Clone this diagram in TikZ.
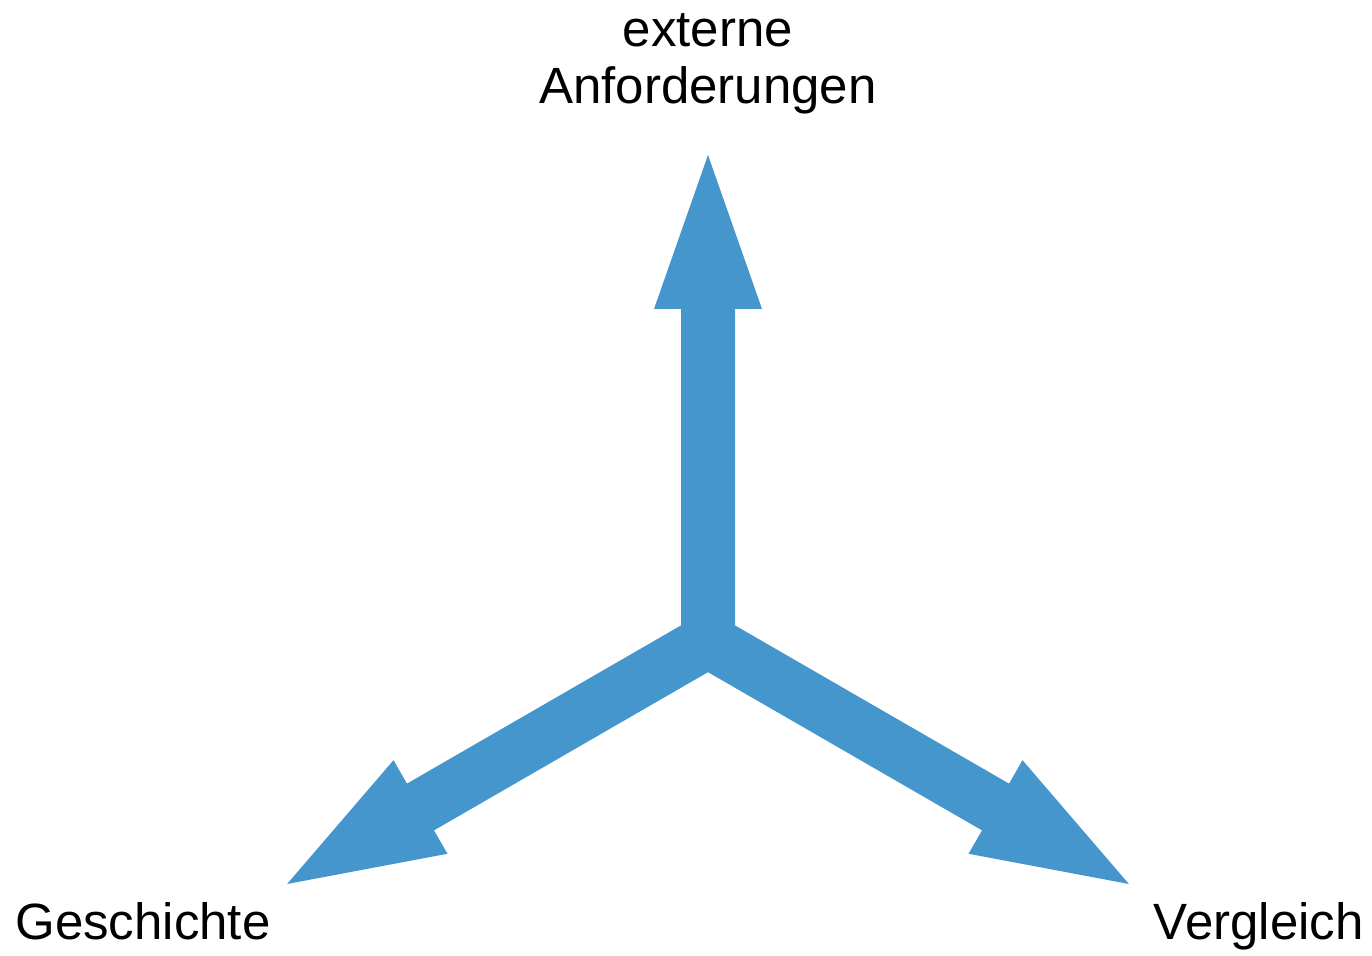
\documentclass[tikz,border=0pt]{standalone}
\usepackage{fontspec}
\setmainfont{Liberation Sans}
\definecolor{arrowblue}{RGB}{70,150,206}
\begin{document}
\begin{tikzpicture}[x=0.5pt,y=-0.5pt,
  lbl/.style={font=\fontsize{25.5}{28.5}\selectfont, inner sep=0pt, text=black},
  fatarrow/.pic={\fill[arrowblue] (0,-27) -- (332,-27) -- (332,-54) -- (486,0) -- (332,54) -- (332,27) -- (0,27) -- cycle;}]
  \fill[white] (0,0) rectangle (1372,956);
  \useasboundingbox (0,0) rectangle (1372,956);
  \coordinate (c) at (708,641);
  \pic[rotate=90] at (c) {fatarrow};
  \pic[rotate=210] at (c) {fatarrow};
  \pic[rotate=330] at (c) {fatarrow};
  \node[lbl, anchor=base] (ext) at (708,47) {externe};
  \node[lbl, anchor=base] (anf) at (708,104) {Anforderungen};
  \node[lbl, anchor=base west] (ges) at (15,940) {Geschichte};
  \node[lbl, anchor=base east] (ver) at (1364,940) {Vergleich};
\end{tikzpicture}
\end{document}
